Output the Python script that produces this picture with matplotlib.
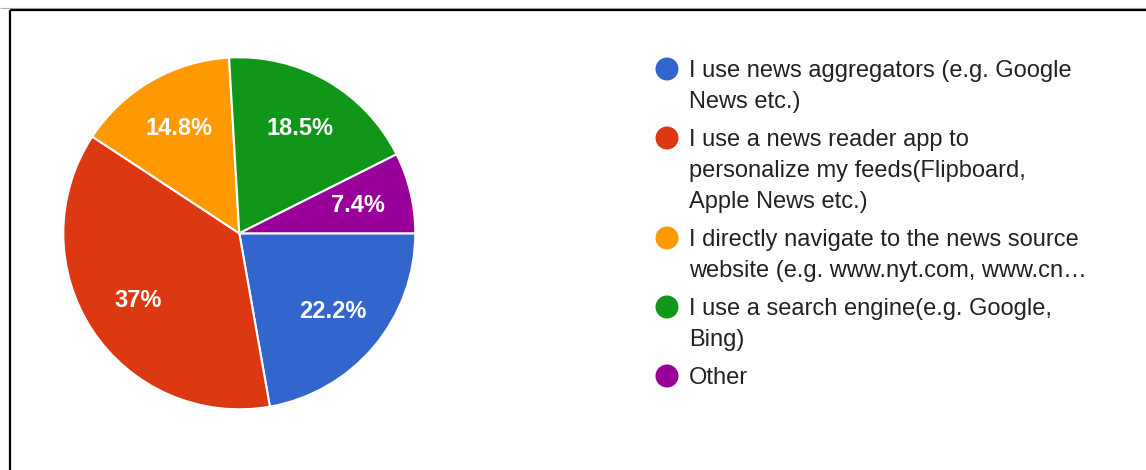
import matplotlib
matplotlib.use("Agg")
import matplotlib.pyplot as plt
from matplotlib.patches import Circle

# ---- data ----
categories = [
    ["I use news aggregators (e.g. Google", "News etc.)"],
    ["I use a news reader app to", "personalize my feeds(Flipboard,", "Apple News etc.)"],
    ["I directly navigate to the news source", "website (e.g. www.nyt.com, www.cn\u2026"],
    ["I use a search engine(e.g. Google,", "Bing)"],
    ["Other"],
]
percent_values = [22.2, 37.0, 14.8, 18.5, 7.4]
colors = ["#3366CC", "#DC3912", "#FF9900", "#109618", "#990099"]

W, H = 1146, 470
DPI = 100
plt.rcParams['font.family'] = ['Liberation Sans', 'DejaVu Sans']

fig = plt.figure(figsize=(W / DPI, H / DPI), dpi=DPI)
fig.patch.set_facecolor("white")

# background overlay axes in pixel coordinates (y down)
bg = fig.add_axes([0, 0, 1, 1])
bg.set_xlim(0, W)
bg.set_ylim(H, 0)
bg.axis("off")

# frame lines
bg.plot([0, W], [7.5, 7.5], color="#b0b0b0", lw=0.8, solid_capstyle="butt")
bg.plot([9.5, W], [10, 10], color="black", lw=1.6, solid_capstyle="butt")
bg.plot([9.5, 9.5], [10, H], color="black", lw=1.6, solid_capstyle="butt")

# pie
cx, cy, r = 239.3, 233.3, 176.0
pax = fig.add_axes([(cx - r) / W, (H - cy - r) / H, 2 * r / W, 2 * r / H])


def fmt(p):
    s = f"{p:.1f}"
    if s.endswith(".0"):
        s = s[:-2]
    return s + "%"


wedges, texts, autotexts = pax.pie(
    percent_values,
    colors=colors,
    startangle=0,
    counterclock=False,
    autopct=fmt,
    pctdistance=0.69,
    wedgeprops=dict(edgecolor="white", linewidth=1.5),
    textprops=dict(color="white", fontsize=17, fontweight="bold"),
)
pax.set_xlim(-1.0, 1.0)
pax.set_ylim(-1.0, 1.0)
pax.set_aspect("equal")
for w in wedges:
    w.set_clip_on(False)

# legend (manual, matches wrapped Google Charts legend)
marker_x = 667
text_x = 689
y = 69
line_h = 31
entry_gap = 38
for lines, c in zip(categories, colors):
    bg.add_patch(Circle((marker_x, y), 11.5, color=c, lw=0))
    for i, line in enumerate(lines):
        bg.text(text_x, y + 8 + i * line_h, line, fontsize=17, color="#222222",
                ha="left", va="baseline")
    y += (len(lines) - 1) * line_h + entry_gap

fig.savefig("out.png", dpi=DPI, facecolor="white")
